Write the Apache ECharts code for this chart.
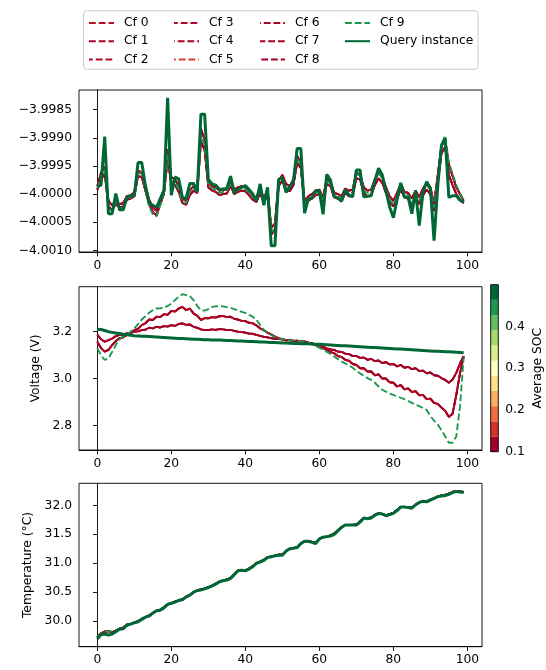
<!DOCTYPE html>
<html><head><meta charset="utf-8">
<script src="https://cdn.jsdelivr.net/npm/echarts@6/dist/echarts.min.js"></script>
<style>html,body{margin:0;padding:0;background:#fff}#c{width:546px;height:670px}</style>
</head><body><div id="c"></div>
<script>
const cfNames = ['Cf 0','Cf 1','Cf 2','Cf 3','Cf 4','Cf 5','Cf 6','Cf 7','Cf 8','Cf 9'];
const queryName = 'Query instance';
const cfColors = ['#b50f28','#aa0427','#b00a28','#ad0727','#a50026','#dd3d2d','#a80226','#a50026','#a50026','#1a9850'];
const queryColor = '#006837';
const cfGroup = ['A','B','A','B','B','A','A','B','A','9'];

const xTicks = [0,20,40,60,80,100];
const currentTicks = [-4.0010,-4.0005,-4.0000,-3.9995,-3.9990,-3.9985];
const voltageTicks = [2.8,3.0,3.2];
const temperatureTicks = [30.0,30.5,31.0,31.5,32.0];
const socTicks = [0.1,0.2,0.3,0.4];
const socBounds = [0.1,0.13636,0.17273,0.20909,0.24545,0.28182,0.31818,0.35455,0.39091,0.42727,0.46364,0.5];
const socColors = ['#a50026','#d73027','#f46d43','#fdae61','#fee08b','#ffffbf','#d9ef8b','#a6d96a','#66bd63','#1a9850','#006837'];

const currentQuery = [-3.99987,-3.99984,-3.99898,-4.00035,-4.00035,-3.99999,-4.00028,-4.00028,-4.00006,-4.00003,
-4.00003,-3.99944,-3.99944,-3.99985,-4.00016,-4.00020,-4.00024,-4.00008,-3.99994,-3.99829,
-4.00002,-3.99970,-3.99973,-4.00006,-4.00008,-3.99981,-3.99981,-3.99996,-3.99858,-3.99858,
-3.99974,-3.99982,-3.99984,-3.99992,-3.99991,-3.99990,-3.99968,-3.99998,-3.99991,-3.99988,
-3.99985,-3.99992,-4.00000,-4.00012,-3.99982,-4.00020,-3.99988,-4.00092,-4.00092,-3.99974,
-3.99971,-3.99997,-3.99988,-3.99976,-3.99919,-3.99919,-4.00034,-4.00009,-4.00007,-3.99994,
-3.99994,-4.00036,-3.99965,-3.99975,-4.00004,-4.00007,-4.00013,-3.99992,-4.00002,-4.00005,
-3.99957,-3.99957,-4.00005,-4.00004,-4.00003,-3.99976,-3.99954,-3.99966,-3.99995,-4.00023,
-4.00042,-4.00010,-3.99980,-4.00005,-4.00006,-4.00035,-3.99994,-4.00056,-3.99997,-3.99978,
-3.99990,-4.00083,-3.99985,-3.99913,-3.99901,-4.00006,-4.00003,-4.00003,-4.00011,-4.00015];
const currentCfA = [-3.99986,-3.99962,-3.99951,-4.00012,-4.00020,-4.00012,-4.00018,-4.00016,-4.00004,-4.00002,
-3.99997,-3.99958,-3.99962,-3.99986,-4.00010,-4.00024,-4.00030,-4.00010,-3.99992,-3.99920,
-3.99970,-3.99974,-3.99986,-4.00008,-4.00012,-3.99994,-3.99986,-3.99990,-3.99884,-3.99904,
-3.99980,-3.99986,-3.99988,-3.99994,-3.99992,-3.99992,-3.99978,-3.99992,-3.99988,-3.99986,
-3.99988,-3.99994,-4.00003,-4.00006,-3.99990,-4.00008,-3.99992,-4.00060,-4.00052,-3.99976,
-3.99966,-3.99982,-3.99986,-3.99974,-3.99932,-3.99944,-4.00012,-4.00004,-4.00000,-3.99994,
-3.99992,-4.00006,-3.99972,-3.99978,-3.99998,-4.00000,-4.00004,-3.99990,-3.99994,-3.99992,
-3.99962,-3.99966,-3.99988,-3.99994,-3.99992,-3.99974,-3.99962,-3.99970,-3.99988,-4.00004,
-4.00012,-3.99998,-3.99982,-3.99996,-3.99998,-4.00008,-3.99994,-4.00006,-3.99990,-3.99980,
-3.99988,-4.00018,-3.99966,-3.99914,-3.99904,-3.99948,-3.99968,-3.99988,-4.00000,-4.00012];
const currentCfB = [-3.99992,-3.99974,-3.99964,-4.00022,-4.00028,-4.00018,-4.00024,-4.00022,-4.00010,-4.00008,
-4.00004,-3.99968,-3.99970,-3.99994,-4.00018,-4.00032,-4.00038,-4.00018,-4.00000,-3.99938,
-3.99982,-3.99984,-3.99996,-4.00016,-4.00019,-4.00002,-3.99994,-3.99998,-3.99906,-3.99922,
-3.99988,-3.99994,-3.99996,-4.00002,-4.00000,-3.99999,-3.99986,-4.00000,-3.99996,-3.99994,
-3.99995,-4.00002,-4.00010,-4.00014,-3.99998,-4.00016,-4.00000,-4.00072,-4.00064,-3.99986,
-3.99976,-3.99992,-3.99995,-3.99984,-3.99944,-3.99954,-4.00020,-4.00012,-4.00008,-4.00002,
-4.00000,-4.00016,-3.99982,-3.99986,-4.00006,-4.00008,-4.00012,-3.99998,-4.00004,-4.00002,
-3.99972,-3.99974,-3.99998,-4.00004,-4.00002,-3.99984,-3.99972,-3.99980,-3.99998,-4.00014,
-4.00022,-4.00008,-3.99992,-4.00006,-4.00008,-4.00020,-4.00004,-4.00018,-4.00002,-3.99992,
-4.00000,-4.00030,-3.99980,-3.99928,-3.99916,-3.99966,-3.99984,-4.00000,-4.00010,-4.00016];
const currentCf9 = [-3.99990,-3.99968,-3.99956,-4.00026,-4.00030,-4.00014,-4.00026,-4.00024,-4.00008,-4.00006,
-4.00000,-3.99962,-3.99964,-3.99992,-4.00022,-4.00036,-4.00040,-4.00020,-3.99998,-3.99930,
-3.99978,-3.99978,-3.99992,-4.00014,-4.00016,-3.99996,-3.99990,-3.99996,-3.99894,-3.99914,
-3.99984,-3.99990,-3.99992,-3.99998,-3.99996,-3.99995,-3.99980,-3.99996,-3.99992,-3.99990,
-3.99991,-3.99998,-4.00006,-4.00010,-3.99992,-4.00012,-3.99996,-4.00068,-4.00060,-3.99980,
-3.99970,-3.99988,-3.99990,-3.99978,-3.99936,-3.99948,-4.00018,-4.00008,-4.00004,-3.99998,
-3.99996,-4.00012,-3.99976,-3.99982,-4.00002,-4.00004,-4.00008,-3.99994,-3.99998,-3.99997,
-3.99964,-3.99968,-3.99994,-3.99998,-3.99996,-3.99976,-3.99962,-3.99972,-3.99992,-4.00010,
-4.00018,-4.00004,-3.99984,-4.00000,-4.00002,-4.00016,-3.99998,-4.00012,-3.99994,-3.99984,
-3.99992,-4.00024,-3.99970,-3.99912,-3.99896,-3.99944,-3.99964,-3.99984,-3.99998,-4.00011];

const voltageQuery = [3.210,3.209,3.205,3.200,3.197,3.194,3.192,3.189,3.187,3.185,
3.183,3.182,3.181,3.180,3.179,3.178,3.177,3.176,3.175,3.174,
3.173,3.172,3.171,3.171,3.170,3.169,3.168,3.168,3.167,3.166,
3.166,3.165,3.164,3.164,3.163,3.162,3.162,3.161,3.160,3.160,
3.159,3.158,3.158,3.157,3.156,3.156,3.155,3.154,3.154,3.153,
3.152,3.152,3.151,3.150,3.150,3.149,3.148,3.148,3.147,3.146,
3.146,3.145,3.144,3.143,3.142,3.141,3.140,3.140,3.139,3.138,
3.137,3.136,3.135,3.134,3.133,3.132,3.131,3.130,3.129,3.128,
3.127,3.126,3.126,3.125,3.124,3.123,3.122,3.121,3.120,3.119,
3.118,3.117,3.116,3.115,3.114,3.114,3.113,3.112,3.111,3.110];
const voltageCfA = [3.157,3.130,3.115,3.122,3.143,3.160,3.172,3.176,3.186,3.192,
3.207,3.212,3.228,3.236,3.252,3.250,3.264,3.262,3.275,3.272,
3.289,3.286,3.299,3.306,3.292,3.299,3.278,3.268,3.250,3.258,
3.257,3.262,3.260,3.266,3.267,3.262,3.264,3.255,3.252,3.246,
3.245,3.238,3.236,3.226,3.214,3.206,3.196,3.188,3.179,3.172,
3.168,3.164,3.165,3.160,3.162,3.157,3.158,3.153,3.150,3.143,
3.136,3.130,3.122,3.113,3.108,3.096,3.092,3.080,3.076,3.062,
3.058,3.044,3.044,3.030,3.030,3.014,3.018,3.000,3.000,2.984,
2.982,2.966,2.972,2.954,2.958,2.942,2.946,2.928,2.930,2.912,
2.914,2.896,2.892,2.876,2.862,2.836,2.850,2.930,3.022,3.094];
const voltageCfB = [3.186,3.168,3.157,3.164,3.171,3.181,3.186,3.188,3.193,3.196,
3.200,3.201,3.207,3.209,3.217,3.214,3.221,3.218,3.224,3.222,
3.228,3.225,3.233,3.235,3.229,3.231,3.221,3.216,3.210,3.207,
3.207,3.210,3.208,3.211,3.210,3.207,3.208,3.203,3.200,3.198,
3.196,3.192,3.191,3.186,3.182,3.178,3.176,3.172,3.170,3.168,
3.167,3.163,3.164,3.159,3.161,3.157,3.157,3.153,3.150,3.144,
3.139,3.135,3.129,3.124,3.122,3.115,3.114,3.106,3.104,3.096,
3.096,3.088,3.090,3.080,3.084,3.074,3.077,3.066,3.070,3.060,
3.062,3.052,3.058,3.046,3.050,3.040,3.044,3.032,3.034,3.022,
3.026,3.014,3.012,3.002,2.994,2.982,2.996,3.024,3.064,3.096];
const voltageCf9 = [3.129,3.100,3.079,3.087,3.113,3.143,3.167,3.180,3.190,3.200,
3.214,3.232,3.252,3.266,3.281,3.292,3.299,3.300,3.302,3.310,
3.320,3.335,3.349,3.360,3.356,3.352,3.335,3.310,3.292,3.290,
3.296,3.306,3.308,3.309,3.308,3.305,3.302,3.296,3.290,3.285,
3.280,3.272,3.264,3.250,3.228,3.207,3.194,3.186,3.176,3.172,
3.168,3.166,3.162,3.164,3.160,3.158,3.157,3.153,3.146,3.139,
3.132,3.123,3.114,3.105,3.094,3.083,3.072,3.064,3.056,3.046,
3.034,3.022,3.012,3.002,2.994,2.982,2.966,2.952,2.944,2.936,
2.930,2.924,2.918,2.912,2.904,2.896,2.888,2.882,2.874,2.866,
2.840,2.820,2.804,2.780,2.754,2.726,2.726,2.753,2.880,3.090];

const temperatureQuery = [29.69,29.77,29.78,29.76,29.78,29.82,29.86,29.87,29.93,29.95,
29.97,29.99,30.03,30.07,30.09,30.14,30.18,30.19,30.23,30.29,
30.31,30.33,30.36,30.37,30.42,30.45,30.50,30.53,30.54,30.56,
30.58,30.61,30.64,30.68,30.70,30.71,30.74,30.80,30.87,30.88,
30.87,30.90,30.94,31.00,31.02,31.05,31.10,31.11,31.13,31.14,
31.14,31.21,31.25,31.26,31.27,31.34,31.38,31.38,31.36,31.34,
31.42,31.45,31.46,31.47,31.50,31.56,31.62,31.66,31.66,31.66,
31.66,31.71,31.78,31.77,31.78,31.83,31.86,31.85,31.82,31.84,
31.86,31.91,31.97,31.97,31.96,31.95,32.01,32.05,32.07,32.06,
32.09,32.12,32.15,32.16,32.17,32.19,32.22,32.24,32.23,32.22];
const temperatureCf = [29.72,29.79,29.82,29.83,29.81,29.84,29.87,29.89,29.94,29.95,
29.98,30.00,30.04,30.07,30.10,30.14,30.18,30.20,30.24,30.29,
30.31,30.34,30.35,30.38,30.42,30.45,30.50,30.53,30.55,30.56,
30.59,30.61,30.65,30.68,30.70,30.72,30.75,30.81,30.87,30.88,
30.88,30.91,30.95,31.00,31.03,31.06,31.10,31.12,31.13,31.15,
31.15,31.21,31.25,31.26,31.28,31.34,31.38,31.38,31.37,31.35,
31.42,31.45,31.46,31.48,31.51,31.57,31.62,31.66,31.66,31.66,
31.67,31.72,31.78,31.78,31.79,31.83,31.86,31.85,31.83,31.85,
31.87,31.92,31.97,31.97,31.97,31.96,32.01,32.05,32.07,32.07,
32.10,32.12,32.15,32.17,32.18,32.20,32.23,32.25,32.24,32.23];

const panels = [
  {query: currentQuery, A: currentCfA, B: currentCfB, '9': currentCf9},
  {query: voltageQuery, A: voltageCfA, B: voltageCfB, '9': voltageCf9},
  {query: temperatureQuery, A: temperatureCf, B: temperatureCf, '9': temperatureCf}
];

const FONT = 'DejaVu Sans';
const FS = 12.3;
const dashOffsets = [0, 0, 3, 3, 6, 5, 6, 1.5, 8.5, 0];
const toPairs = arr => arr.map((v, i) => [i, v]);
const minusFmt = d => v => v.toFixed(d).replace('-', '\u2212');

const gridTops = [90, 286.7, 483.3];
const gridH = [162, 163.3, 163.4];
const yRanges = [[-4.00103, -3.99815], [2.695, 3.392], [29.56, 32.38]];
const yTicks = [currentTicks, voltageTicks, temperatureTicks];
const yDec = [4, 1, 1];
const yNames = ['', 'Voltage (V)', 'Temperature (\u00b0C)'];
const yGaps = [0, 34, 39];

const grids = [], xAxes = [], yAxes = [], series = [];
for (let p = 0; p < 3; p++) {
  grids.push({left: 79, top: gridTops[p], width: 403, height: gridH[p], show: true,
    borderColor: '#000', borderWidth: 0.9, backgroundColor: 'transparent', outerBoundsMode: 'none', containLabel: false});
  xAxes.push({gridIndex: p, type: 'value', min: -4.95, max: 103.95,
    axisLine: {show: true, onZero: false, lineStyle: {color: '#000', width: 0.9}},
    axisTick: {show: true, length: 4.3, customValues: xTicks, lineStyle: {color: '#000', width: 0.9}},
    axisLabel: {show: true, customValues: xTicks, margin: 7.5, color: '#000', fontSize: FS, fontFamily: FONT},
    splitLine: {show: false}});
  yAxes.push({gridIndex: p, type: 'value', min: yRanges[p][0], max: yRanges[p][1],
    name: yNames[p], nameLocation: 'middle', nameGap: yGaps[p],
    nameTextStyle: {color: '#000', fontSize: FS, fontFamily: FONT},
    axisLine: {show: true, lineStyle: {color: '#000', width: 0.9}},
    axisTick: {show: true, length: 4.3, customValues: yTicks[p], lineStyle: {color: '#000', width: 0.9}},
    axisLabel: {show: true, customValues: yTicks[p], margin: 7, color: '#000', fontSize: FS, fontFamily: FONT,
      formatter: minusFmt(yDec[p])},
    splitLine: {show: false}});
  for (let k = 0; k < 10; k++) {
    series.push({name: cfNames[k], type: 'line', xAxisIndex: p, yAxisIndex: p,
      data: toPairs(panels[p][cfGroup[k]]), symbol: 'none', showSymbol: false,
      itemStyle: {color: cfColors[k]},
      lineStyle: {color: cfColors[k], width: 1.85, type: [6.8, 2.95], dashOffset: dashOffsets[k]}});
  }
  series.push({name: queryName, type: 'line', xAxisIndex: p, yAxisIndex: p,
    data: toPairs(panels[p].query), symbol: 'none', showSymbol: false,
    itemStyle: {color: queryColor},
    lineStyle: {color: queryColor, width: 3}});
}
// colorbar
grids.push({left: 490.7, top: 284.7, width: 7.6, height: 167, show: true, z: 10,
  borderColor: '#000', borderWidth: 0.9, backgroundColor: 'transparent', outerBoundsMode: 'none', containLabel: false});
xAxes.push({gridIndex: 3, type: 'value', min: 0, max: 1, show: false});
yAxes.push({gridIndex: 3, type: 'value', position: 'right', min: 0.1, max: 0.5,
  name: 'Average SOC', nameLocation: 'middle', nameGap: 34,
  nameTextStyle: {color: '#000', fontSize: FS, fontFamily: FONT},
  axisLine: {show: false},
  axisTick: {show: true, length: 4.3, customValues: socTicks, lineStyle: {color: '#000', width: 0.9}},
  axisLabel: {show: true, customValues: socTicks, margin: 7, color: '#000', fontSize: FS, fontFamily: FONT,
    formatter: minusFmt(1)},
  splitLine: {show: false}});
series.push({type: 'line', xAxisIndex: 3, yAxisIndex: 3, data: [[0.5, 0.3]], symbol: 'none',
  lineStyle: {opacity: 0}, silent: true,
  markArea: {silent: true, data: socColors.map((c, i) => [
    {yAxis: socBounds[i], itemStyle: {color: c, borderWidth: 0, opacity: 1}},
    {yAxis: socBounds[i + 1]}])}});

const legendCols = [
  ['Cf 0','Cf 1','Cf 2'], ['Cf 3','Cf 4','Cf 5'], ['Cf 6','Cf 7','Cf 8'], ['Cf 9', queryName]
];
const legendLefts = [88, 173, 259, 344];
const legends = legendCols.map((d, i) => ({
  data: d, orient: 'vertical', left: legendLefts[i], top: 17, padding: 0,
  itemWidth: 25, itemHeight: 12, itemGap: 6.2, selectedMode: false,
  itemStyle: {opacity: 0, borderWidth: 0},
  textStyle: {color: '#000', fontSize: FS, fontFamily: FONT, padding: [0, 0, 0, 5]}
}));

const chart = echarts.init(document.getElementById('c'), null, {renderer: 'canvas'});
chart.setOption({
  animation: false,
  backgroundColor: '#fff',
  textStyle: {fontFamily: FONT},
  graphic: [{type: 'rect', z: 0, shape: {x: 83.5, y: 10.7, width: 394.5, height: 58.6, r: 3},
    style: {fill: 'rgba(255,255,255,0.8)', stroke: '#cccccc', lineWidth: 1}}],
  legend: legends,
  grid: grids,
  xAxis: xAxes,
  yAxis: yAxes,
  series: series
});
</script></body></html>
